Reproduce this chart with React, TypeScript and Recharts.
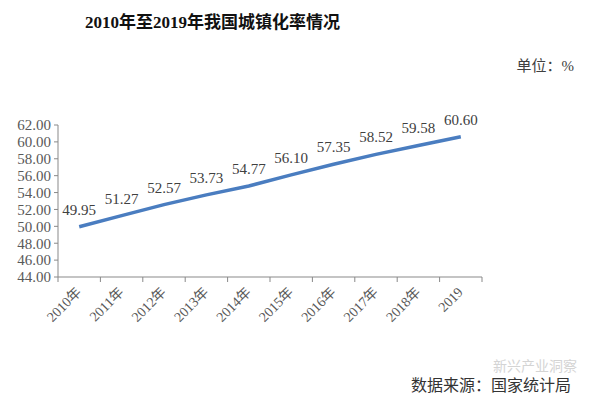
import React from 'react';
import { LineChart, Line, XAxis, YAxis, LabelList } from 'recharts';

const years = ['2010年', '2011年', '2012年', '2013年', '2014年', '2015年', '2016年', '2017年', '2018年', '2019'];
const rates = [49.95, 51.27, 52.57, 53.73, 54.77, 56.1, 57.35, 58.52, 59.58, 60.6];
const yTicks = [44, 46, 48, 50, 52, 54, 56, 58, 60, 62];
const xTicks = [-0.5, 0, 0.5, 1, 1.5, 2, 2.5, 3, 3.5, 4, 4.5, 5, 5.5, 6, 6.5, 7, 7.5, 8, 8.5, 9, 9.5];

const data = years.map((y, i) => ({ idx: i, year: y, rate: rates[i] }));

const FONT = "'Liberation Serif', 'Noto Sans CJK SC', serif";
const AXIS = '#898989';
const TEXT = '#595959';

const XTick = (props: any) => {
  const { x, y, payload } = props;
  const v = payload.value as number;
  if (!Number.isInteger(v)) {
    return <line x1={x} y1={y} x2={x} y2={y + 5} stroke={AXIS} strokeWidth={1} />;
  }
  const label = years[v];
  return (
    <text
      x={x + 3}
      y={y + 16}
      textAnchor="end"
      fontSize={14}
      fontFamily={FONT}
      fill={TEXT}
      transform={`rotate(-45, ${x + 3}, ${y + 16})`}
    >
      {label}
    </text>
  );
};

export default function App() {
  return (
    <div style={{ position: 'absolute', left: 0, top: 0, width: 600, height: 401, background: '#fff' }}>
      <LineChart
        width={600}
        height={401}
        data={data}
        margin={{ top: 125, right: 118, left: 0, bottom: 0 }}
      >
        <XAxis
          dataKey="idx"
          type="number"
          domain={[-0.5, 9.5]}
          ticks={xTicks}
          interval={0}
          height={124}
          tickLine={false}
          tickSize={0}
          tickMargin={0}
          axisLine={{ stroke: AXIS, strokeWidth: 1 }}
          tick={<XTick />}
        />
        <YAxis
          width={58}
          domain={[44, 62]}
          ticks={yTicks}
          interval={0}
          tickFormatter={(v: number) => v.toFixed(2)}
          tickSize={4}
          tickMargin={3}
          axisLine={{ stroke: AXIS, strokeWidth: 1 }}
          tickLine={{ stroke: AXIS, strokeWidth: 1 }}
          tick={{ fill: TEXT, fontSize: 15, fontFamily: FONT }}
        />
        <Line
          type="linear"
          dataKey="rate"
          stroke="#4a7dc0"
          strokeWidth={3.5}
          dot={false}
          activeDot={false}
          isAnimationActive={false}
        >
          <LabelList
            dataKey="rate"
            position="top"
            offset={12}
            formatter={(v: number) => v.toFixed(2)}
            style={{ fill: '#404040', fontSize: 15, fontFamily: FONT }}
          />
        </Line>
      </LineChart>
      <svg width={600} height={401} style={{ position: 'absolute', left: 0, top: 0, pointerEvents: 'none' }}>
        <text x={85} y={28} fontSize={17} fontWeight="bold" fontFamily={FONT} fill="#111">
          2010年至2019年我国城镇化率情况
        </text>
        <text x={574} y={71} textAnchor="end" fontSize={15} fontFamily={FONT} fill="#404040">
          单位：%
        </text>
        <text x={493} y={371} fontSize={14} fontFamily={FONT} fill="#d4d4d4">
          新兴产业洞察
        </text>
        <text x={571} y={391} textAnchor="end" fontSize={16} fontFamily={FONT} fill="#333">
          数据来源：国家统计局
        </text>
      </svg>
    </div>
  );
}
